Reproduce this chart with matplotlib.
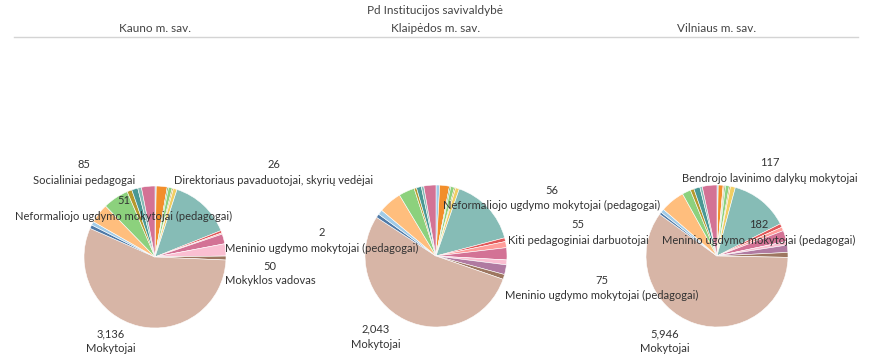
import matplotlib
matplotlib.use("Agg")
import matplotlib.pyplot as plt

plt.rcParams['font.family'] = ['Lato', 'DejaVu Sans']

W, H = 870, 356

# tableau 20 colours used by the slices (clockwise from 12 o'clock)
slice_colors = ['#A0CBE8', '#F28E2B', '#FFBE7D', '#59A14F', '#8CD17D', '#B6992D',
                '#F1CE63', '#86BCB6', '#E15759', '#FF9D9A', '#D37295', '#FABFD2',
                '#B07AA1', '#9D7660', '#D7B5A6', '#4E79A7', '#A0CBE8', '#FFBE7D',
                '#8CD17D', '#B6992D', '#499894', '#86BCB6', '#D37295']

municipalities = ['Kauno m. sav.', 'Klaipėdos m. sav.', 'Vilniaus m. sav.']

kaunas = [16, 140, 0, 16, 47, 16, 47, 780, 31, 16, 125, 156, 0, 50, 3136,
          47, 47, 250, 328, 62, 78, 47, 172]
klaipeda = [32, 84, 0, 11, 32, 11, 32, 590, 32, 53, 105, 42, 84, 42, 2043,
            32, 42, 200, 137, 21, 42, 21, 105]
vilnius = [28, 110, 28, 28, 83, 28, 110, 1330, 83, 83, 250, 83, 166, 110, 5946,
           55, 83, 553, 194, 83, 138, 55, 332]

# value, label, x, y (pixels from top-left)
labels = [
    ('85', 'Socialiniai pedagogai', 84, 165),
    ('26', 'Direktoriaus pavaduotojai, skyrių vedėjai', 274, 165),
    ('51', 'Neformaliojo ugdymo mokytojai (pedagogai)', 124, 201),
    ('2', 'Meninio ugdymo mokytojai (pedagogai)', 322, 233),
    ('50', 'Mokyklos vadovas', 270, 266),
    ('3,136', 'Mokytojai', 111, 334),
    ('56', 'Neformaliojo ugdymo mokytojai (pedagogai)', 552, 190),
    ('55', 'Kiti pedagoginiai darbuotojai', 578, 225),
    ('75', 'Meninio ugdymo mokytojai (pedagogai)', 602, 280),
    ('2,043', 'Mokytojai', 376, 329),
    ('117', 'Bendrojo lavinimo dalykų mokytojai', 770, 163),
    ('182', 'Meninio ugdymo mokytojai (pedagogai)', 759, 225),
    ('5,946', 'Mokytojai', 665, 334),
]

centers = [(155, 257), (436, 256), (717, 256)]
radius = 71

fig = plt.figure(figsize=(W / 100, H / 100), dpi=100)
ax = fig.add_axes([0, 0, 1, 1])
ax.set_xlim(0, W)
ax.set_ylim(0, H)
ax.axis('off')

for vals, (cx, cy) in zip([kaunas, klaipeda, vilnius], centers):
    ax.pie(vals, colors=slice_colors, startangle=90, counterclock=False,
           center=(cx, H - cy), radius=radius,
           wedgeprops=dict(edgecolor='white', linewidth=0.4))
ax.set_xlim(0, W)
ax.set_ylim(0, H)
ax.set_aspect('auto')

# headers
ax.text(W / 2, H - 10, 'Pd Institucijos savivaldybė', ha='center', va='center',
        fontsize=8.5, color='#444444')
for name, (cx, cy) in zip(municipalities, centers):
    ax.text(cx, H - 28, name, ha='center', va='center', fontsize=8.5, color='#444444')
ax.plot([14, 858], [H - 37, H - 37], color='#d4d4d4', lw=1)

for val, txt, x, y in labels:
    ax.text(x, H - y, val, ha='center', va='center', fontsize=8, color='#333333')
    ax.text(x, H - y - 15, txt, ha='center', va='center', fontsize=8, color='#333333')

fig.savefig('out.png', dpi=100, facecolor='white')
